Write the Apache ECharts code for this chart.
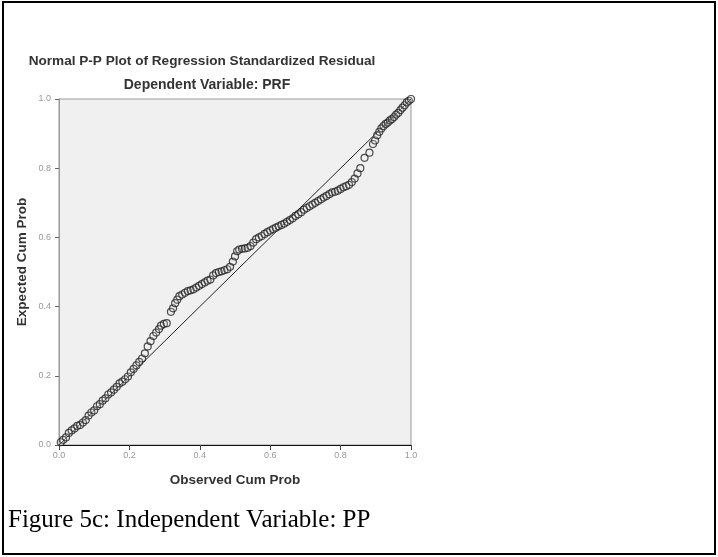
<!DOCTYPE html>
<html><head><meta charset="utf-8">
<script src="https://cdn.jsdelivr.net/npm/echarts@6/dist/echarts.min.js"></script>
<style>html,body{margin:0;padding:0;background:#fff}#c{width:718px;height:557px}</style>
</head><body><div id="c"></div>
<script>
const titleText = "Normal P-P Plot of Regression Standardized Residual";
const subtitleText = "Dependent Variable: PRF";
const xAxisName = "Observed Cum Prob";
const yAxisName = "Expected Cum Prob";
const caption = "Figure 5c: Independent Variable: PP";
const tickLabels = ["0.0","0.2","0.4","0.6","0.8","1.0"];

const observed = [0.005,0.012,0.02,0.028,0.036,0.044,0.052,0.06,0.068,0.076,0.084,0.092,0.1,0.108,0.116,0.124,0.132,0.14,0.148,0.156,0.164,0.172,0.18,0.188,0.196,0.204,0.212,0.22,0.228,0.236,
0.244,0.252,0.26,0.268,0.276,0.284,0.29,0.298,0.306,0.318,0.324,0.33,0.336,0.342,0.35,0.358,0.366,0.374,0.382,0.39,0.398,0.406,0.414,0.422,0.43,0.438,0.446,0.454,0.462,0.47,0.478,0.486,0.494,0.5,0.506,0.512,0.52,0.528,0.536,0.544,0.552,0.56,0.568,0.576,0.584,0.592,0.6,0.608,0.616,0.624,0.632,0.64,0.648,0.656,0.664,0.672,0.68,0.688,0.696,0.704,0.712,0.72,0.728,0.736,0.744,0.752,0.76,0.768,0.776,0.784,0.792,0.8,0.808,0.816,0.824,0.832,0.84,0.848,0.856,0.868,0.882,0.892,0.898,0.904,0.91,0.916,0.922,0.928,0.934,0.94,0.946,0.952,0.958,0.964,0.97,0.976,0.982,0.988,0.994,1.0];
const expected = [0.008,0.015,0.022,0.035,0.042,0.048,0.055,0.058,0.065,0.072,0.085,0.094,0.1,0.112,0.118,0.128,0.135,0.146,0.152,0.16,0.168,0.178,0.183,0.19,0.198,0.21,0.22,0.23,0.24,0.25,
0.265,0.285,0.3,0.315,0.325,0.335,0.345,0.35,0.352,0.385,0.395,0.41,0.42,0.43,0.435,0.44,0.445,0.447,0.45,0.455,0.46,0.465,0.47,0.475,0.478,0.49,0.497,0.5,0.502,0.505,0.508,0.515,0.53,0.545,0.56,0.565,0.567,0.568,0.57,0.575,0.585,0.595,0.6,0.604,0.61,0.615,0.62,0.624,0.628,0.632,0.636,0.64,0.645,0.65,0.655,0.662,0.667,0.673,0.68,0.685,0.69,0.695,0.7,0.705,0.71,0.715,0.72,0.725,0.73,0.732,0.735,0.74,0.745,0.748,0.752,0.76,0.77,0.785,0.8,0.83,0.845,0.87,0.88,0.895,0.905,0.915,0.922,0.928,0.932,0.938,0.942,0.948,0.955,0.96,0.968,0.975,0.982,0.99,0.995,1.0];
const refLineX = [0, 1];
const refLineY = [0, 1];

const chart = echarts.init(document.getElementById('c'), null, {renderer:'canvas'});
const pts = observed.map((v,i)=>[v, expected[i]]);
const ref = refLineX.map((v,i)=>[v, refLineY[i]]);
const boldFont = (s)=>'bold ' + s + 'px "Liberation Sans", Arial, sans-serif';
chart.setOption({
  animation:false,
  backgroundColor:'#fff',
  grid:{left:59, top:99, width:352, height:346, show:true, backgroundColor:'#f0f0f0', borderColor:'#999', borderWidth:1},
  xAxis:{type:'value', min:0, max:1, interval:0.2,
    axisLine:{lineStyle:{color:'#111', width:1}},
    axisTick:{show:true, length:5, lineStyle:{color:'#444'}},
    splitLine:{show:false},
    axisLabel:{fontSize:9, color:'#999', margin:6, formatter:(v)=>tickLabels[Math.round(v*5)]}
  },
  yAxis:{type:'value', min:0, max:1, interval:0.2,
    axisLine:{lineStyle:{color:'#999', width:1}},
    axisTick:{show:true, length:4, lineStyle:{color:'#666'}},
    splitLine:{show:false},
    axisLabel:{fontSize:9, color:'#999', margin:8, formatter:(v)=>tickLabels[Math.round(v*5)]}
  },
  series:[
    {type:'line', data:ref, symbol:'none', lineStyle:{color:'#222', width:1}, z:2},
    {type:'scatter', data:pts, symbol:'circle', symbolSize:7,
     itemStyle:{color:'rgba(240,240,240,0.2)', borderColor:'#222', borderWidth:1.2}, z:3}
  ],
  graphic:[
    {type:'rect', shape:{x:3, y:2, width:712, height:552}, style:{fill:null, stroke:'#000', lineWidth:2}, silent:true},
    {type:'text', x:202, y:61, style:{text:titleText, font:boldFont(13.6), fill:'#333', textAlign:'center', textVerticalAlign:'middle'}},
    {type:'text', x:207, y:85, style:{text:subtitleText, font:boldFont(14), fill:'#333', textAlign:'center', textVerticalAlign:'middle'}},
    {type:'text', x:235, y:480, style:{text:xAxisName, font:boldFont(13.5), fill:'#333', textAlign:'center', textVerticalAlign:'middle'}},
    {type:'text', x:22, y:262, rotation:Math.PI/2, style:{text:yAxisName, font:boldFont(13.5), fill:'#333', textAlign:'center', textVerticalAlign:'middle'}},
    {type:'text', x:8, y:520, style:{text:caption, font:'25px "Liberation Serif", "Times New Roman", serif', fill:'#000', textVerticalAlign:'middle'}}
  ]
});
</script></body></html>
